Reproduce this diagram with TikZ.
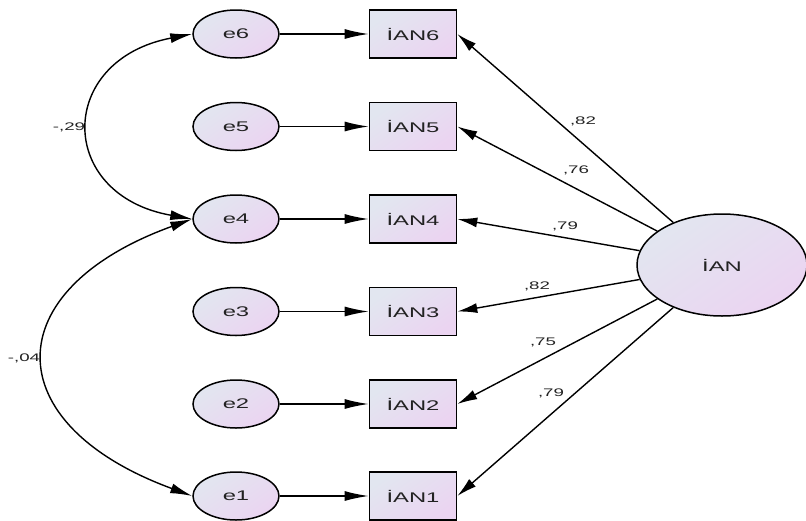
\documentclass[tikz,border=0pt]{standalone}
\usepackage{fontspec}
\newfontfamily\wfont[FakeStretch=1.7]{Liberation Sans}
\usetikzlibrary{arrows.meta}
\definecolor{shA}{HTML}{E2E6F0}
\definecolor{shB}{HTML}{EBD4F1}
\definecolor{txt}{HTML}{222222}
\tikzset{
  shd/.style={top color=shA, bottom color=shB, shading angle=35},
  errnode/.style={ellipse, draw, line width=1.5pt, shd, text=txt, minimum width=86pt, minimum height=48pt, inner sep=0pt, font=\wfont\fontsize{14}{16}\selectfont},
  obsnode/.style={rectangle, draw, line width=1.6pt, shd, text=txt, minimum width=87pt, minimum height=48pt, inner sep=0pt, font=\wfont\fontsize{14}{16}\selectfont},
  latnode/.style={ellipse, draw, line width=1.5pt, shd, text=txt, minimum width=170pt, minimum height=102pt, inner sep=0pt, font=\wfont\fontsize{14}{16}\selectfont},
  harr/.style={line width=1.4pt, -{Latex[length=24pt,width=10pt]}},
  darr/.style={line width=1.4pt, -{Latex[length=20pt,width=10pt]}},
  carr/.style={line width=1.4pt, {Latex[length=22pt,width=10pt]}-{Latex[length=22pt,width=10pt]}},
  lbl/.style={font=\wfont\fontsize{11}{12}\selectfont, text=txt, inner sep=0pt}
}
\usetikzlibrary{shapes.geometric}
\begin{document}
\begin{tikzpicture}[x=1pt,y=-1pt]
\useasboundingbox (0,0) rectangle (806,520);
% error terms
\node[errnode] (e6) at (236,34) {e6};
\node[errnode] (e5) at (236,126.5) {e5};
\node[errnode] (e4) at (236,219) {e4};
\node[errnode] (e3) at (236,311.5) {e3};
\node[errnode] (e2) at (236,404) {e2};
\node[errnode] (e1) at (236,496) {e1};
% observed
\node[obsnode] (o6) at (413,34) {İAN6};
\node[obsnode] (o5) at (413,126.5) {İAN5};
\node[obsnode] (o4) at (413,219) {İAN4};
\node[obsnode] (o3) at (413,311.5) {İAN3};
\node[obsnode] (o2) at (413,404) {İAN2};
\node[obsnode] (o1) at (413,496) {İAN1};
% latent
\node[latnode] (ian) at (722,265) {İAN};
% error arrows
\foreach \i in {1,...,6} {\draw[harr] (e\i) -- (o\i);}
% loadings
\foreach \i in {1,...,6} {\draw[darr] (ian) -- (o\i.east);}
% loading labels
\node[lbl] (l6) at (583,121) {,82};
\node[lbl] (l5) at (576,170) {,76};
\node[lbl] (l4) at (565,226) {,79};
\node[lbl] (l3) at (537,286) {,82};
\node[lbl] (l2) at (543,342) {,75};
\node[lbl] (l1) at (551,393) {,79};
% covariances
\draw[carr] (e6.west) .. controls (56,60) and (56,195) .. (e4.west);
\draw[carr] (e4.west) .. controls (-4,290) and (-4,424) .. (e1.west);
\node[lbl] (c64) at (69,127) {-,29};
\node[lbl] (c41) at (24,358) {-,04};
\end{tikzpicture}
\end{document}
